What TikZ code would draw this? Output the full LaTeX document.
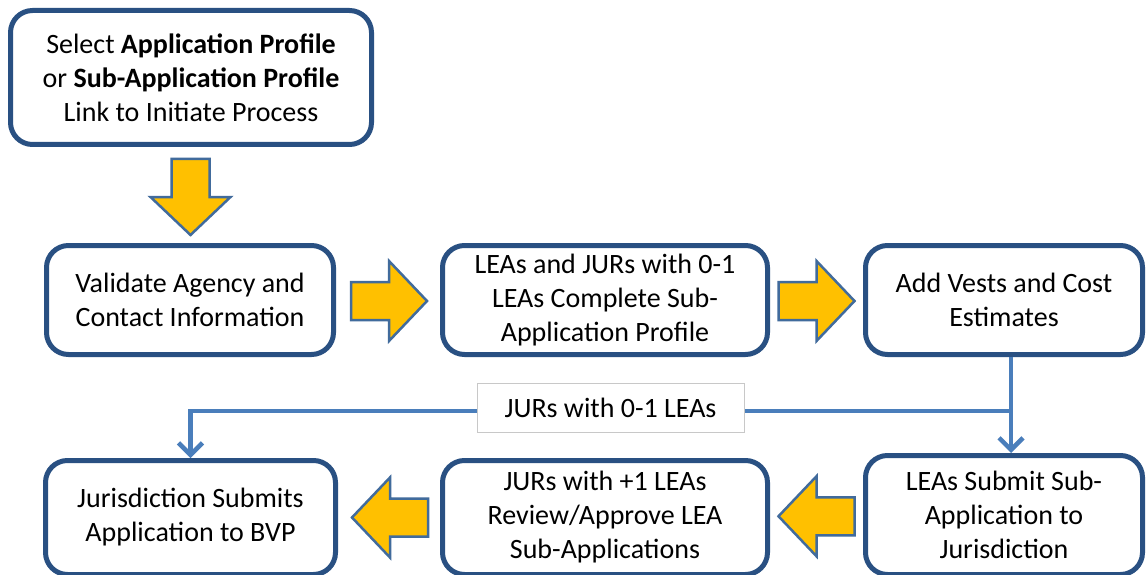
\documentclass[tikz,border=0pt]{standalone}
\usepackage{fontspec}
\setmainfont{Carlito}
\usetikzlibrary{arrows.meta,calc}
\definecolor{boxblue}{RGB}{41,80,130}
\definecolor{linkblue}{RGB}{74,126,187}
\definecolor{arrgold}{RGB}{255,192,0}
\definecolor{arredge}{RGB}{65,107,156}
\definecolor{lblgray}{RGB}{200,200,200}
\tikzset{
  stepbox/.style={draw=boxblue, line width=5pt, fill=white, rounded corners=22pt,
    align=center, inner sep=0pt, font=\fontsize{28}{34}\selectfont},
  barrow/.style={fill=arrgold, draw=arredge, line width=2.5pt, line join=miter},
  conn/.style={draw=linkblue, line width=4.5pt},
  connarrow/.style={conn, -{Straight Barb[length=12pt,width=24pt,line width=4.5pt]}},
  lbl/.style={draw=lblgray, line width=1pt, fill=white, inner sep=0pt,
    minimum width=267pt, minimum height=49pt, font=\fontsize{28}{34}\selectfont},
  blockarrow/.pic={\filldraw[barrow] (-38,-19) -- (0,-19) -- (0,-40) -- (38,0) -- (0,40) -- (0,19) -- (-38,19) -- cycle;}
}
\begin{document}
\begin{tikzpicture}[x=1pt,y=-1pt]
\useasboundingbox (0,0) rectangle (1146,575);
\clip (0,0) rectangle (1146,575);
\fill[white] (0,0) rectangle (1146,575);

\node[stepbox, minimum width=361pt, minimum height=134pt] (top) at (191,77.5)
  {Select \textbf{Application Profile}\\or \textbf{Sub-Application Profile}\\Link to Initiate Process};
\node[stepbox, minimum width=287pt, minimum height=109pt] (A) at (190,300)
  {Validate Agency and\\Contact Information};
\node[stepbox, minimum width=325pt, minimum height=109pt] (B) at (605,300)
  {LEAs and JURs with 0-1\\LEAs Complete Sub-\\Application Profile};
\node[stepbox, minimum width=277pt, minimum height=109pt] (C) at (1004,300)
  {Add Vests and Cost\\Estimates};
\node[stepbox, minimum width=290pt, minimum height=114pt] (D) at (190.5,517.5)
  {Jurisdiction Submits\\Application to BVP};
\node[stepbox, minimum width=325pt, minimum height=114pt] (E) at (605,517.5)
  {JURs with +1 LEAs\\Review/Approve LEA\\Sub-Applications};
\node[stepbox, minimum width=277pt, minimum height=119pt] (F) at (1004,515)
  {LEAs Submit Sub-\\Application to\\Jurisdiction};

% block arrows
\pic[rotate=-90] at ($(top.south)!0.5!(A.north)+(0,2)$) {blockarrow};
\pic at ($(A.east)!0.5!(B.west)+(1,1)$) {blockarrow};
\pic at ($(B.east)!0.5!(C.west)+(0,1)$) {blockarrow};
\pic[rotate=180] at ($(E.west)!0.5!(D.east)+(1,0)$) {blockarrow};
\pic[rotate=180] at ($(F.west)!0.5!(E.east)+(0,0)$) {blockarrow};

% connectors
\coordinate (cs) at ($(C.south)+(7,0)$);
\coordinate (split) at ($(cs)+(0,54)$);
\draw[conn] (cs) -- (split);
\draw[connarrow] (split) -- (split |- F.north);
\draw[connarrow] (split) -| (D.north);
\node[lbl] (L) at (610.5,407.5) {JURs with 0-1 LEAs};
\end{tikzpicture}
\end{document}
